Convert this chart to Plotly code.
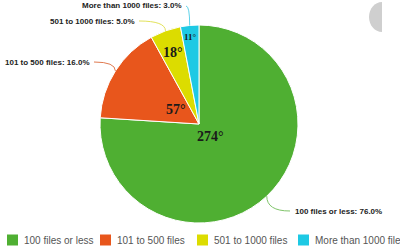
import math
import plotly.graph_objects as go

labels = ["100 files or less", "101 to 500 files", "501 to 1000 files", "More than 1000 files"]
percents = [76.0, 16.0, 5.0, 3.0]
degrees = [274, 57, 18, 11]
colors = ["#4faf32", "#e8561c", "#dcdc00", "#1ec9e4"]
line_colors = ["#7fc46a", "#e07a50", "#e2e25a", "#5fd3ea"]

W, H = 400, 248
CX, CY, R = 199.0, 124.0, 99.0

def px(x):
    return x / W

def py(y):
    return 1 - y / H

fig = go.Figure(go.Pie(
    labels=labels, values=percents, sort=False, direction="clockwise", rotation=0,
    marker=dict(colors=colors, line=dict(color="#ffffff", width=1)),
    textinfo="none", hoverinfo="skip", showlegend=False,
    domain=dict(x=[(CX - R) / W, (CX + R) / W], y=[(H - CY - R) / H, (H - CY + R) / H]),
))

# slice mid-angles (clockwise from 12 o'clock), derived from the data
total = sum(percents)
mids = []
acc = 0.0
for v in percents:
    a0 = acc / total * 360
    acc += v
    a1 = acc / total * 360
    mids.append(math.radians((a0 + a1) / 2))

def polar(frac, ang):
    return CX + frac * R * math.sin(ang), CY - frac * R * math.cos(ang)

# outside label positions (layout) : (x, y, anchor)
label_pos = [(293, 211, "left"), (92, 62, "right"), (137, 21, "right"), (184, 6, "right")]
deg_frac = [0.17, 0.28, 0.77, 0.88]
deg_size = [14, 14, 14, 9]
legend_x = [7, 100, 197, 298]
LEG_Y = 240
SQ = 11

annotations = []
shapes = []
for i, lab in enumerate(labels):
    lx, ly, anc = label_pos[i]
    annotations.append(dict(
        x=px(lx), y=py(ly), xref="paper", yref="paper", xanchor=anc, yanchor="middle",
        text="<b>%s: %.1f%%</b>" % (lab, percents[i]), showarrow=False,
        font=dict(family="Arial", size=8, color="#222222"),
    ))
    ex, ey = polar(1.0, mids[i])
    ax = lx - 3 if anc == "left" else lx + 2
    shapes.append(dict(
        type="path", xref="paper", yref="paper",
        path="M %f,%f Q %f,%f %f,%f" % (px(ax), py(ly), px(ex), py(ly), px(ex), py(ey)),
        line=dict(color=line_colors[i], width=1),
    ))
    dx, dy = polar(deg_frac[i], mids[i])
    annotations.append(dict(
        x=px(dx), y=py(dy), xref="paper", yref="paper", xanchor="center", yanchor="middle",
        text="<b>%d°</b>" % degrees[i], showarrow=False,
        font=dict(family="Liberation Serif", size=deg_size[i], color="#1a1a1a"),
    ))
    # legend entry
    gx = legend_x[i]
    shapes.append(dict(
        type="rect", xref="paper", yref="paper",
        x0=px(gx), x1=px(gx + SQ), y0=py(LEG_Y - SQ / 2), y1=py(LEG_Y + SQ / 2),
        fillcolor=colors[i], line=dict(width=0),
    ))
    annotations.append(dict(
        x=px(gx + SQ + 4), y=py(LEG_Y), xref="paper", yref="paper",
        xanchor="left", yanchor="middle", text=lab, showarrow=False,
        font=dict(family="Arial", size=10, color="#555555"),
    ))

# grey half-circle button fragment at top right
shapes.append(dict(
    type="path", xref="paper", yref="paper",
    path="M %f,%f C %f,%f %f,%f %f,%f C %f,%f %f,%f %f,%f Z" % (
        px(382), py(2), px(374.8), py(2), px(369), py(8.7), px(369), py(17),
        px(369), py(25.3), px(374.8), py(32), px(382), py(32)),
    fillcolor="#cfcfcf", line=dict(width=0),
))

fig.update_layout(
    width=W, height=H, autosize=False,
    margin=dict(l=0, r=0, t=0, b=0),
    paper_bgcolor="white", plot_bgcolor="white",
    showlegend=False,
    annotations=annotations, shapes=shapes,
)

fig.write_html("out.html")
